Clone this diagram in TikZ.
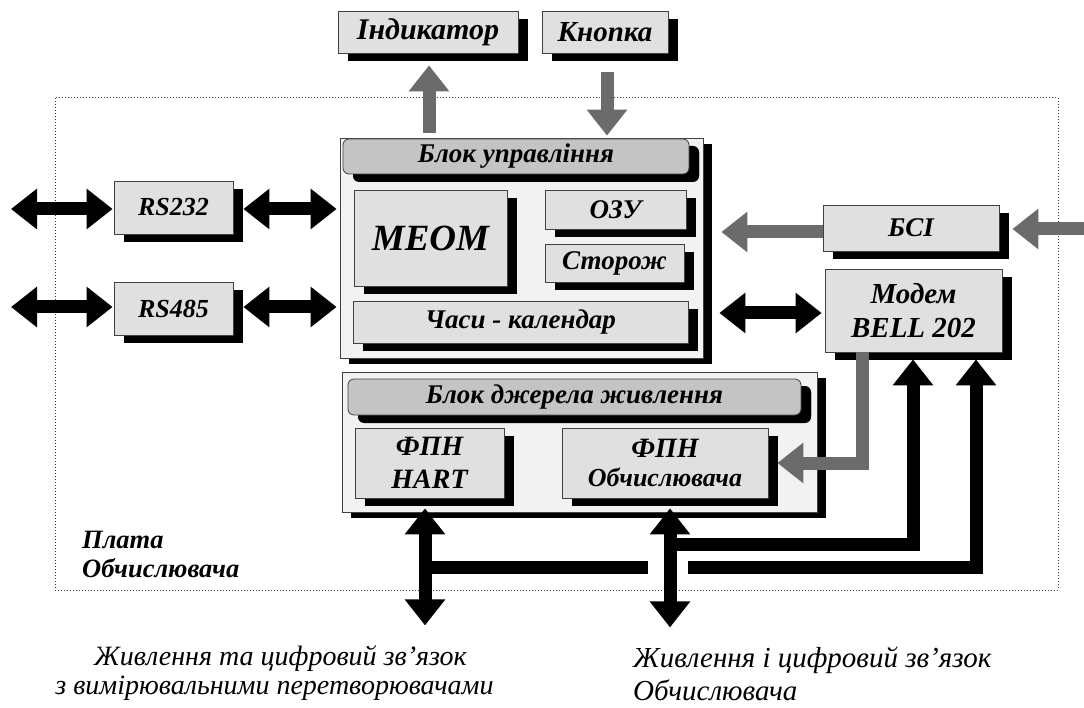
\documentclass[tikz,border=0pt]{standalone}
\usepackage{fontspec}
\setmainfont{Liberation Serif}
\usetikzlibrary{shadows,arrows.meta,calc}
\definecolor{boxgray}{HTML}{E0E0E0}
\definecolor{blockgray}{HTML}{F2F2F2}
\definecolor{hdrgray}{HTML}{C4C4C4}
\definecolor{arrgray}{HTML}{6B6B6B}
\begin{document}
\begin{tikzpicture}[x=1pt,y=-1pt,
  box/.style={draw=black!75, line width=0.8pt, fill=boxgray, inner sep=0pt, align=center,
    font=\bfseries\itshape\fontsize{27}{30}\selectfont,
    general shadow={fill=black, shadow xshift=10pt, shadow yshift=-8pt}},
  block/.style={draw=black!75, line width=0.8pt, fill=blockgray, inner sep=0pt,
    general shadow={fill=black, shadow xshift=9pt, shadow yshift=-6pt}},
  hdr/.style={box, fill=hdrgray, rounded corners=6pt,
    general shadow={fill=black, shadow xshift=10pt, shadow yshift=-7pt, rounded corners=6pt}},
  grayarrow/.style={draw=arrgray, line width=13pt, -{Triangle[width=39pt,length=26pt]}},
  blackarrow/.style={draw=black, line width=13pt, -{Triangle[width=39pt,length=26pt]}},
  dblarrow/.style={draw=black, line width=13pt, {Triangle[width=39pt,length=26pt]}-{Triangle[width=39pt,length=26pt]}},
  blackline/.style={draw=black, line width=13pt},
  lbl/.style={inner sep=0pt, anchor=base west},
  bottomtext/.style={inner sep=0pt, font=\itshape\fontsize{28}{32}\selectfont},
]
\useasboundingbox (0,0) rectangle (1084,708);
\fill[white] (0,0) rectangle (1084,708);

% board
\draw[dotted, line width=1pt, black!80] (55,98) rectangle (1058,590);

% blocks
\node[block, minimum width=363pt, minimum height=220pt] (ctrl) at (521.5,248) {};
\node[block, minimum width=475pt, minimum height=140pt] (pwr) at (579.5,442) {};
\node[hdr, minimum width=346pt, minimum height=35pt] (ctrlhdr) at (516,156.5) {Блок управління};
\node[hdr, minimum width=453pt, minimum height=36pt] (pwrhdr) at (574.5,397) {Блок джерела живлення};

% boxes
\node[box, minimum width=153pt, minimum height=96pt, font=\bfseries\itshape\fontsize{37}{40}\selectfont] (meom) at (430.5,238) {МЕОМ};
\node[box, minimum width=141pt, minimum height=39pt] (ozu) at (615.5,209.5) {ОЗУ};
\node[box, minimum width=139pt, minimum height=38pt] (storozh) at (614.5,263) {Сторож};
\node[box, minimum width=335pt, minimum height=42pt] (chasy) at (520.5,322) {Часи - календар};
\node[box, minimum width=149pt, minimum height=70pt, font=\bfseries\itshape\fontsize{28}{33}\selectfont] (hart) at (429.5,463) {ФПН\\HART};
\node[box, minimum width=206pt, minimum height=70pt, font=\bfseries\itshape\fontsize{28}{29}\selectfont] (fpno) at (665,463) {ФПН\\{\fontsize{26}{29}\selectfont Обчислювача}};
\node[box, minimum width=180pt, minimum height=42pt, font=\bfseries\itshape\fontsize{30}{32}\selectfont] (ind) at (428,32) {Індикатор};
\node[box, minimum width=126pt, minimum height=42pt, font=\bfseries\itshape\fontsize{29}{32}\selectfont] (knop) at (605,32) {Кнопка};
\node[box, minimum width=119pt, minimum height=53pt, font=\bfseries\itshape\fontsize{26}{30}\selectfont] (rs232) at (173.5,207.5) {RS232};
\node[box, minimum width=119pt, minimum height=53pt, font=\bfseries\itshape\fontsize{26}{30}\selectfont] (rs485) at (173.5,308.5) {RS485};
\node[box, minimum width=176pt, minimum height=46pt] (bsi) at (911,228) {БСІ};
\node[box, minimum width=177pt, minimum height=83pt, font=\bfseries\itshape\fontsize{29}{34}\selectfont] (modem) at (913.5,310.5) {Модем\\BELL 202};

% labels
\node[lbl, font=\bfseries\itshape\fontsize{26.5}{29}\selectfont] (plata1) at (82,548) {Плата};
\node[lbl, font=\bfseries\itshape\fontsize{26.5}{29}\selectfont] (plata2) at (82,577) {Обчислювача};
\node[bottomtext, anchor=base] (tl1) at (280.5,665) {Живлення та цифровий зв’язок};
\node[bottomtext, anchor=base] (tl2) at (274.5,694) {з вимірювальними перетворювачами};
\node[bottomtext, anchor=base west, font=\itshape\fontsize{29}{32}\selectfont] (tr1) at (633,667) {Живлення і цифровий зв’язок};
\node[bottomtext, anchor=base west, font=\itshape\fontsize{29}{32}\selectfont] (tr2) at (633,700) {Обчислювача};

% coordinates
\coordinate (iu1) at ($(ind.south |- ctrl.north)+(1,-5)$);
\coordinate (iu2) at ($(ind.south)+(1,12)$);
\coordinate (kd1) at ($(knop.south)+(2,19)$);
\coordinate (kd2) at ($(knop.south |- ctrl.north)+(2,-2)$);
\coordinate (b1) at ($(bsi.west)+(0,4)$);
\coordinate (b2) at ($(ctrl.east |- bsi.west)+(18,4)$);
\coordinate (rin) at (1084,229);
\coordinate (r2) at ($(bsi.east)+(13,1)$);
\coordinate (o232) at (11,209);
\coordinate (a2) at ($(rs232.west)+(-1,1.5)$);
\coordinate (a3) at ($(rs232.east)+(10,1.5)$);
\coordinate (a4) at ($(ctrl.west |- rs232.west)+(-3,1.5)$);
\coordinate (o485) at (11,307);
\coordinate (c2) at ($(rs485.west)+(-1,-1.5)$);
\coordinate (c3) at ($(rs485.east)+(10,-1.5)$);
\coordinate (c4) at ($(ctrl.west |- rs485.west)+(-3,-1.5)$);
\coordinate (m1) at ($(ctrl.east |- modem.west)+(16,2.5)$);
\coordinate (m2) at ($(modem.west)+(-3,2.5)$);
\coordinate (hartTop) at ($(hart.south)+(-4.5,10)$);
\coordinate (hartBot) at ($(hartTop)+(0,117)$);
\coordinate (fpnoTop) at ($(fpno.south)+(5,10)$);
\coordinate (fpnoBot) at ($(fpnoTop)+(0,119)$);
\coordinate (modL) at ($(modem.south)+(-0.5,7)$);
\coordinate (modR) at ($(modem.south)+(62.5,7)$);
\coordinate (j1) at ($(fpnoTop)+(0,36)$);
\coordinate (j2) at ($(hartTop)+(0,59)$);
\coordinate (gapL) at ($(fpnoTop)+(-22,59)$);
\coordinate (gapR) at ($(fpnoTop)+(18,59)$);
\coordinate (gs) at ($(modem.south)+(-51.5,0)$);
\coordinate (gt) at ($(fpno.east)+(9,0)$);

% gray arrows
\draw[grayarrow] (iu1) -- (iu2);
\draw[grayarrow] (kd1) -- (kd2);
\draw[grayarrow] (b1) -- (b2);
\draw[grayarrow] (rin) -- (r2);
\draw[grayarrow] (gs) -- (gs |- gt) -- (gt);

% black arrows
\draw[dblarrow] (o232) -- (a2);
\draw[dblarrow] (a3) -- (a4);
\draw[dblarrow] (o485) -- (c2);
\draw[dblarrow] (c3) -- (c4);
\draw[dblarrow] (m1) -- (m2);
\draw[blackline] (j2) -- (gapL);
\draw[blackarrow] (gapR) -- (modR |- gapR) -- (modR);
\draw[blackarrow] (j1) -- (modL |- j1) -- (modL);
\draw[dblarrow] (hartTop) -- (hartBot);
\draw[dblarrow] (fpnoTop) -- (fpnoBot);
\end{tikzpicture}
\end{document}
